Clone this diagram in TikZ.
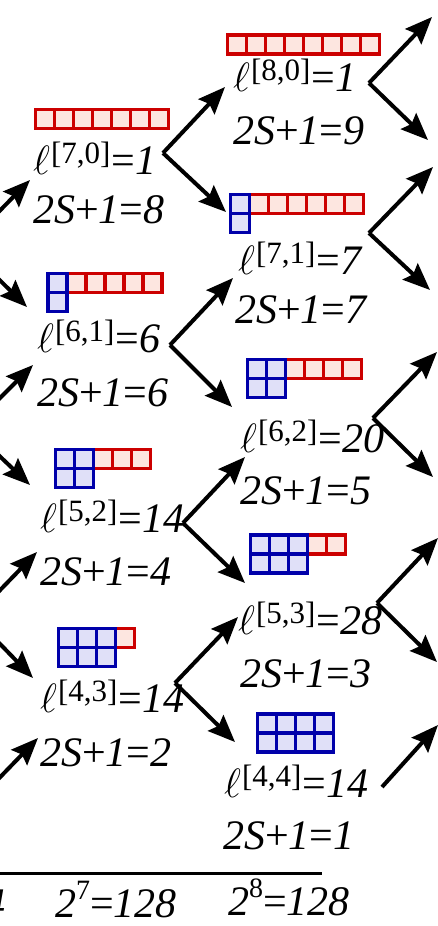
\RequirePackage{fix-cm}
\documentclass[tikz,border=0pt]{standalone}
\usepackage{fontspec}
\setmainfont{Liberation Serif}
\usetikzlibrary{arrows.meta}
\definecolor{redE}{HTML}{CC0000}
\definecolor{redF}{HTML}{FDE6E0}
\definecolor{bluE}{HTML}{0000AA}
\definecolor{bluF}{HTML}{E0E0F8}
\newcommand\Lval[2]{{\fontsize{41}{41}\selectfont$\ell$}\kern1pt\raisebox{11pt}{\fontsize{31}{31}\selectfont[#1]}\kern1pt{\fontsize{42}{42}\selectfont=\textit{#2}}}
\newcommand\Smul[1]{{\fontsize{42}{42}\selectfont\textit{2S}+\textit{1}=\textit{#1}}}
\newcommand\Pow[1]{{\fontsize{42}{42}\selectfont\textit{2}\raisebox{18pt}{\fontsize{28}{28}\selectfont #1}=\textit{128}}}
\newcommand\bw{19}
\newcommand\bh{19}
% x, y (top-left), blue columns, red boxes
\newcommand\ydiag[4]{%
  \ifnum#4>0
    \foreach \i in {1,...,#4}{\draw[rbox] ({#1+(#3+\i-1)*\bw},#2) rectangle ++(\bw,\bh);}
  \fi
  \ifnum#3>0
    \foreach \i in {1,...,#3}{%
      \draw[bbox] ({#1+(\i-1)*\bw},#2) rectangle ++(\bw,\bh);
      \draw[bbox] ({#1+(\i-1)*\bw},{#2+\bh}) rectangle ++(\bw,\bh);}
  \fi}
\tikzset{
  rbox/.style={draw=redE,fill=redF,line width=3.2pt},
  bbox/.style={draw=bluE,fill=bluF,line width=3.2pt},
  lab/.style={inner sep=0pt,anchor=base west,text=black},
  arr/.style={line width=4pt,-{Stealth[length=27pt,width=22pt,inset=4pt]}},
}
\begin{document}
\begin{tikzpicture}[x=1pt,y=-1pt]
\useasboundingbox (0,0) rectangle (438,926);
\clip (0,0) rectangle (438,926);
% young diagrams
\ydiag{35.5}{109.5}{0}{7}
\ydiag{227.5}{35}{0}{8}
\ydiag{230.5}{194.5}{1}{6}
\ydiag{48}{273.5}{1}{5}
\ydiag{247.5}{359.5}{2}{4}
\ydiag{55.5}{449.5}{2}{3}
\ydiag{250.5}{535}{3}{2}
\ydiag{58.5}{628.5}{3}{1}
\ydiag{257.5}{714}{4}{0}
% labels column 1
\node[lab] (l70) at (33,174) {\Lval{7,0}{1}};
\node[lab] (s70) at (33,223) {\Smul{8}};
\node[lab] (l61) at (37,352) {\Lval{6,1}{6}};
\node[lab] (s61) at (37,406) {\Smul{6}};
\node[lab] (l52) at (40,532) {\Lval{5,2}{14}};
\node[lab] (s52) at (40,585) {\Smul{4}};
\node[lab] (l43) at (40,712) {\Lval{4,3}{14}};
\node[lab] (s43) at (40,766) {\Smul{2}};
% labels column 2
\node[lab] (l80) at (233,91) {\Lval{8,0}{1}};
\node[lab] (s80) at (233,144) {\Smul{9}};
\node[lab] (l71) at (238,274) {\Lval{7,1}{7}};
\node[lab] (s71) at (235,323) {\Smul{7}};
\node[lab] (l62) at (240,452) {\Lval{6,2}{20}};
\node[lab] (s62) at (240,504) {\Smul{5}};
\node[lab] (l53) at (238,634) {\Lval{5,3}{28}};
\node[lab] (s53) at (240,687) {\Smul{3}};
\node[lab] (l44) at (224,797) {\Lval{4,4}{14}};
\node[lab] (s44) at (223,849) {\Smul{1}};
% bottom
\draw[line width=3pt] (0,873) coordinate (r0) -- (322,873) coordinate (r1);
\node[lab,anchor=base east] (p6) at (6,917) {\fontsize{42}{42}\selectfont\textit{4}};
\node[lab] (p7) at (55,917) {\Pow{7}};
\node[lab] (p8) at (228,915) {\Pow{8}};
% forks
\coordinate (f60) at (-35,246);
\coordinate (f51) at (-30,428);
\coordinate (f42) at (-26,617);
\coordinate (f33) at (-22,800);
\coordinate (f70) at (163,153);
\coordinate (f61) at (170,345);
\coordinate (f52) at (183,523);
\coordinate (f43) at (175,683);
\coordinate (f80) at (369,83);
\coordinate (f71) at (369,233);
\coordinate (f62) at (373,418);
\coordinate (f53) at (377,603);
\coordinate (f44) at (382,787);
% tips
\coordinate (t70u) at (30,180);
\coordinate (t61d) at (27,307);
\coordinate (t61u) at (33,365);
\coordinate (t52d) at (30,485);
\coordinate (t52u) at (37,552);
\coordinate (t43d) at (33,678);
\coordinate (t43u) at (38,738);
\coordinate (t80u) at (225,87);
\coordinate (t71d) at (226,212);
\coordinate (t71u) at (233,278);
\coordinate (t62d) at (232,407);
\coordinate (t62u) at (245,457);
\coordinate (t53d) at (245,583);
\coordinate (t53u) at (238,617);
\coordinate (t44d) at (235,742);
\coordinate (t90u) at (432,17);
\coordinate (t81d) at (428,140);
\coordinate (t81u) at (433,167);
\coordinate (t72d) at (430,290);
\coordinate (t72u) at (437,352);
\coordinate (t63d) at (433,477);
\coordinate (t63u) at (438,538);
\coordinate (t54d) at (437,662);
\coordinate (t54u) at (438,725);
% arrows
\draw[arr] (f60) -- (t70u);
\draw[arr] (f60) -- (t61d);
\draw[arr] (f51) -- (t61u);
\draw[arr] (f51) -- (t52d);
\draw[arr] (f42) -- (t52u);
\draw[arr] (f42) -- (t43d);
\draw[arr] (f33) -- (t43u);
\draw[arr] (f70) -- (t80u);
\draw[arr] (f70) -- (t71d);
\draw[arr] (f61) -- (t71u);
\draw[arr] (f61) -- (t62d);
\draw[arr] (f52) -- (t62u);
\draw[arr] (f52) -- (t53d);
\draw[arr] (f43) -- (t53u);
\draw[arr] (f43) -- (t44d);
\draw[arr] (f80) -- (t90u);
\draw[arr] (f80) -- (t81d);
\draw[arr] (f71) -- (t81u);
\draw[arr] (f71) -- (t72d);
\draw[arr] (f62) -- (t72u);
\draw[arr] (f62) -- (t63d);
\draw[arr] (f53) -- (t63u);
\draw[arr] (f53) -- (t54d);
\draw[arr] (f44) -- (t54u);
\end{tikzpicture}
\end{document}
